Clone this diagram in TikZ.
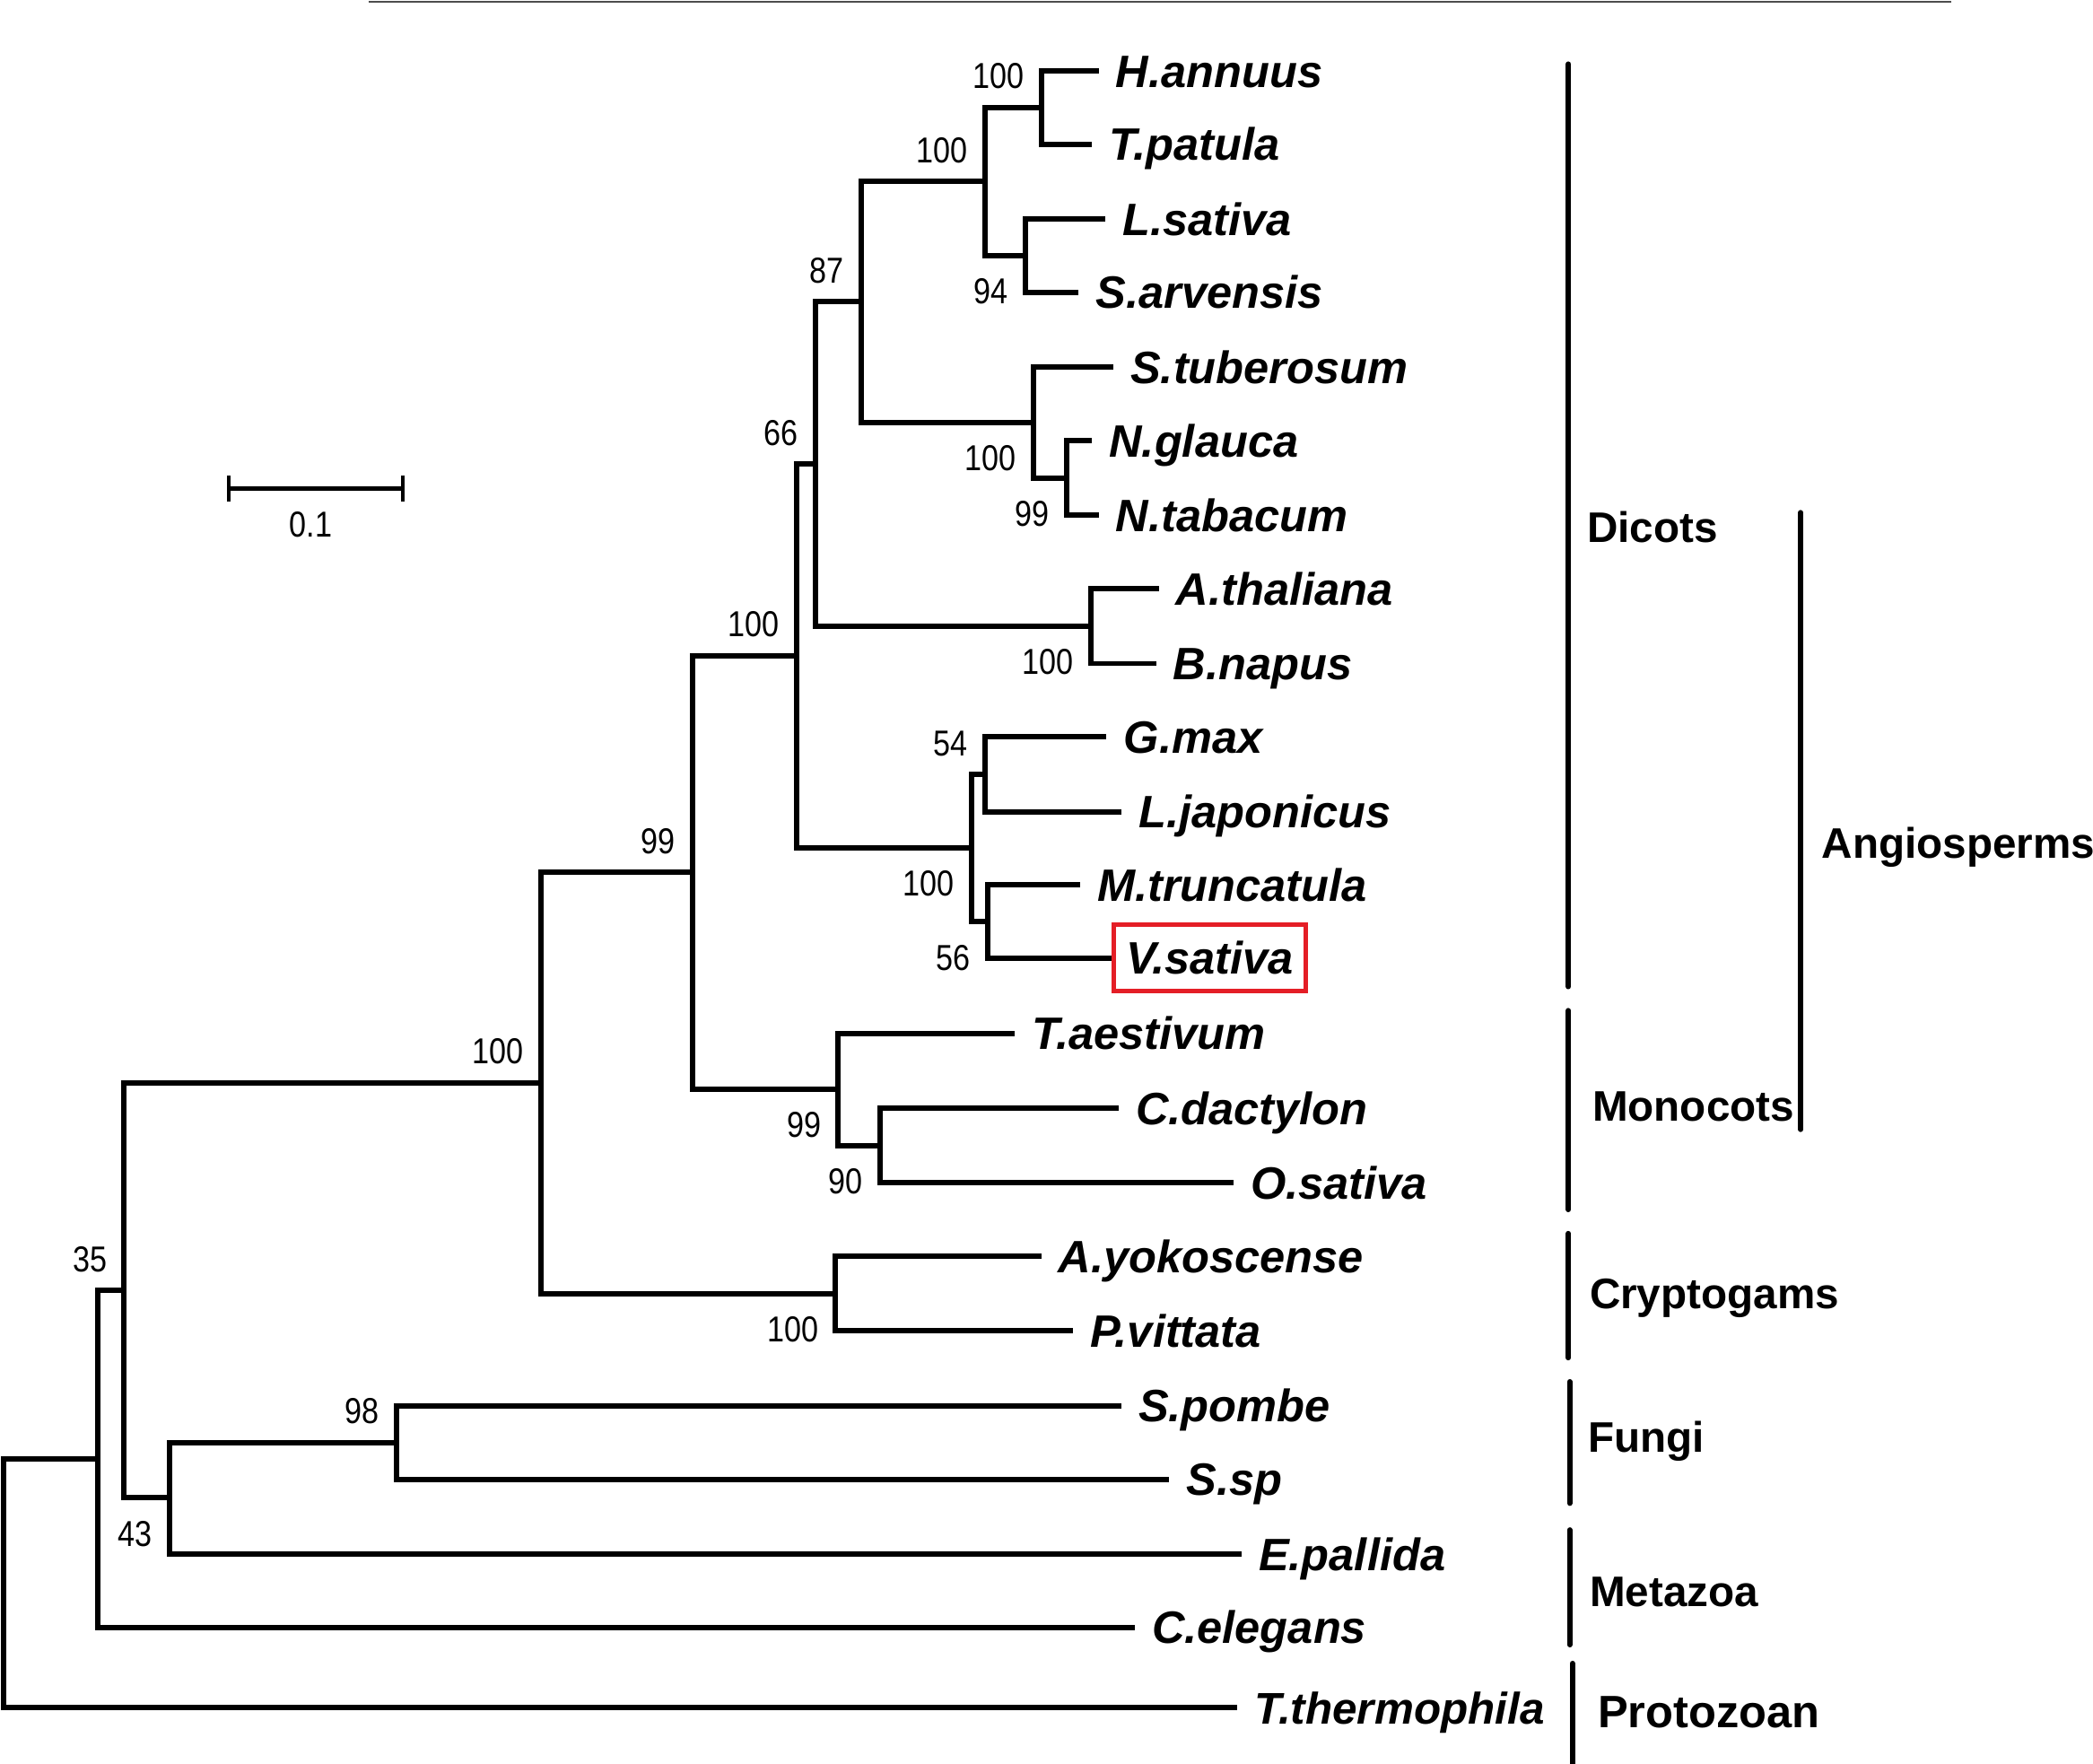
\documentclass[tikz,border=0pt]{standalone}
\usepackage{fontspec}
\setmainfont{Liberation Sans}
\newfontfamily\bsfont[FakeStretch=0.85]{Liberation Sans}
\usetikzlibrary{arrows.meta}
\definecolor{boxred}{RGB}{228,30,38}

\begin{document}
\begin{tikzpicture}[x=0.5pt, y=-0.5pt, line width=2pt,
    leaf/.style={anchor=west, inner xsep=5.5pt, inner ysep=0pt, text height=12.2pt, text depth=0pt,
                 font=\fontsize{17}{20}\selectfont\bfseries\itshape},
    bsnum/.style={inner sep=0pt, text height=9.6pt, text depth=0pt, font=\fontsize{13.5}{16}\selectfont\bsfont},
    bsup/.style={bsnum, anchor=south east, xshift=-5.5pt, yshift=6pt},
    bsdown/.style={bsnum, anchor=north east, xshift=-5.5pt, yshift=-7.5pt},
    grp/.style={anchor=west, inner sep=0pt, text height=11.5pt, text depth=0pt,
                font=\fontsize{16}{19}\selectfont\bfseries},
    grpbar/.style={line cap=round}]
    \useasboundingbox (0,0) rectangle (1568,1321);
    \draw[line width=0.7pt, black!70] (276,1.2) -- (1462,1.2);

    % leaves
    \node[leaf] (ha) at (823,53) {H.annuus};
    \node[leaf] (tp) at (818,108) {T.patula};
    \node[leaf] (ls) at (828,164) {L.sativa};
    \node[leaf] (sa) at (808,219) {S.arvensis};
    \node[leaf] (st) at (834,275) {S.tuberosum};
    \node[leaf] (ng) at (818,330) {N.glauca};
    \node[leaf] (nt) at (823,386) {N.tabacum};
    \node[leaf] (at) at (868,441) {A.thaliana};
    \node[leaf] (bn) at (866,497) {B.napus};
    \node[leaf] (gm) at (829,552) {G.max};
    \node[leaf] (lj) at (840,608) {L.japonicus};
    \node[leaf] (mt) at (809,663) {M.truncatula};
    \node[leaf, draw=boxred, line width=1.7pt, inner xsep=4.5pt, minimum height=25pt] (vs) at (833,717.5) {V.sativa};
    \node[leaf] (ta) at (760,774) {T.aestivum};
    \node[leaf] (cd) at (838,830) {C.dactylon};
    \node[leaf] (os) at (924,886) {O.sativa};
    \node[leaf] (ay) at (780,941) {A.yokoscense};
    \node[leaf] (pv) at (804,997) {P.vittata};
    \node[leaf] (sp) at (840,1053) {S.pombe};
    \node[leaf] (ss) at (876,1108) {S.sp};
    \node[leaf] (ep) at (930,1164) {E.pallida};
    \node[leaf] (ce) at (850,1219) {C.elegans};
    \node[leaf, font=\fontsize{16.6}{20}\selectfont\bfseries\itshape] (tt) at (927,1279) {T.thermophila};

    % internal nodes
    \coordinate (n1) at (780,80.5);
    \coordinate (n2) at (768,191.5);
    \coordinate (n3) at (738,136);
    \coordinate (n4) at (799,358);
    \coordinate (n5) at (774,316.5);
    \coordinate (n6) at (645,226);
    \coordinate (n7) at (817,469);
    \coordinate (n8) at (611,347.5);
    \coordinate (n9) at (738,580);
    \coordinate (n10) at (740,690.5);
    \coordinate (n11) at (728,635);
    \coordinate (n12) at (597,491);
    \coordinate (n13) at (659,858);
    \coordinate (n14) at (628,816);
    \coordinate (n15) at (519,653.5);
    \coordinate (n16) at (626,969);
    \coordinate (n17) at (405,811);
    \coordinate (n18) at (297,1080.5);
    \coordinate (n19) at (127,1122);
    \coordinate (n20) at (93,966.5);
    \coordinate (n21) at (73,1092.5);
    \coordinate (root) at (3,1186);

    \foreach \p/\c in {n1/ha.west, n1/tp.west, n2/ls.west, n2/sa.west, n3/n1, n3/n2,
                       n4/ng.west, n4/nt.west, n5/st.west, n5/n4, n6/n3, n6/n5,
                       n7/at.west, n7/bn.west, n8/n6, n8/n7,
                       n9/gm.west, n9/lj.west, n10/mt.west, n10/vs.west, n11/n9, n11/n10,
                       n12/n8, n12/n11, n13/cd.west, n13/os.west, n14/ta.west, n14/n13,
                       n15/n12, n15/n14, n16/ay.west, n16/pv.west, n17/n15, n17/n16,
                       n18/sp.west, n18/ss.west, n19/n18, n19/ep.west, n20/n17, n20/n19,
                       n21/n20, n21/ce.west, root/n21, root/tt.west}
        \draw (\p) |- (\c);

    % bootstrap values
    \node[bsup] (b1) at (n1) {100};
    \node[bsup] (b3) at (n3) {100};
    \node[bsdown] (b2) at (n2) {94};
    \node[bsup] (b6) at (n6) {87};
    \node[bsdown] (b5) at (n5) {100};
    \node[bsdown] (b4) at (n4) {99};
    \node[bsup] (b8) at (n8) {66};
    \node[bsdown] (b7) at (n7) {100};
    \node[bsup] (b12) at (n12) {100};
    \node[bsup] (b9) at (n9) {54};
    \node[bsdown] (b11) at (n11) {100};
    \node[bsdown] (b10) at (n10) {56};
    \node[bsup] (b15) at (n15) {99};
    \node[bsdown] (b14) at (n14) {99};
    \node[bsdown] (b13) at (n13) {90};
    \node[bsup] (b17) at (n17) {100};
    \node[bsdown] (b16) at (n16) {100};
    \node[bsup] (b20) at (n20) {35};
    \node[bsup] (b18) at (n18) {98};
    \node[bsdown] (b19) at (n19) {43};

    % scale bar
    \coordinate (sbl) at (170,366);
    \coordinate (sbr) at (303,366);
    \draw[line width=1.4pt, {Bar[width=10pt]}-{Bar[width=10pt]}] (sbl) -- (sbr);
    \node[bsnum] (sbtext) at (233,392.5) {0.1};

    % groups
    \draw[grpbar] (1175,48) -- (1175,739);
    \draw[grpbar] (1175,757) -- (1175,906);
    \draw[grpbar] (1349,384) -- (1349,846);
    \draw[grpbar] (1175,924) -- (1175,1017);
    \draw[grpbar] (1176,1035) -- (1176,1126);
    \draw[grpbar] (1176,1146) -- (1176,1232);
    \draw[grpbar] (1178,1246) -- (1178,1330);
    \node[grp] (dicots) at (1187,394.5) {Dicots};
    \node[grp] (monocots) at (1191,828) {Monocots};
    \node[grp] (angio) at (1363,631.5) {Angiosperms};
    \node[grp] (crypto) at (1189,969) {Cryptogams};
    \node[grp] (fungi) at (1188,1076.5) {Fungi};
    \node[grp] (metazoa) at (1189,1192) {Metazoa};
    \node[grp, font=\fontsize{17}{20}\selectfont\bfseries] (protozoan) at (1195,1282.5) {Protozoan};
\end{tikzpicture}
\end{document}
